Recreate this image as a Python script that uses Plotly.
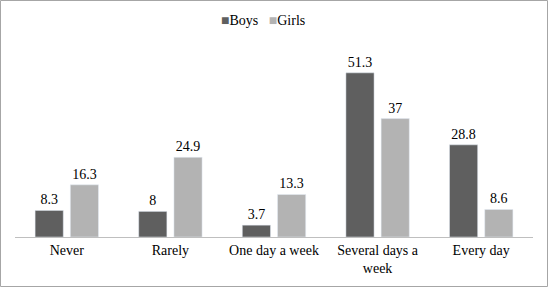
import plotly.graph_objects as go

categories = ["Never", "Rarely", "One day a week", "Several days a<br>week", "Every day"]
boys = [8.3, 8, 3.7, 51.3, 28.8]
girls = [16.3, 24.9, 13.3, 37, 8.6]
series_names = ["Boys", "Girls"]
colors = ["#5f5f5f", "#b3b3b3"]

W, H = 549, 288
ml, mr, mt, mb = 15, 16, 45, 51
FONT = "Liberation Serif"

fig = go.Figure()
for name, vals, col in zip(series_names, [boys, girls], colors):
    fig.add_trace(go.Bar(name=name, x=categories, y=vals, marker_color=col,
                         text=[str(v) for v in vals], textposition="outside",
                         textfont=dict(color="black", size=14, family=FONT),
                         cliponaxis=False))

pw = W - ml - mr
ph = H - mt - mb
legend_text = "&nbsp;&nbsp;&nbsp;".join(
    f'<span style="color:{c}">■</span>{n}' for n, c in zip(series_names, colors))
fig.update_layout(
    width=W, height=H,
    margin=dict(l=ml, r=mr, t=mt, b=mb, autoexpand=False),
    paper_bgcolor="white", plot_bgcolor="white",
    font=dict(family=FONT, size=14, color="black"),
    barmode="group", bargap=0.32, bargroupgap=0.2,
    showlegend=False,
    xaxis=dict(showline=True, linecolor="#bfbfbf", linewidth=1, ticks="",
               tickfont=dict(size=14, family=FONT), fixedrange=True, automargin=False),
    yaxis=dict(range=[0, 60], showgrid=False, showticklabels=False, zeroline=False,
               showline=False, fixedrange=True, automargin=False),
    annotations=[dict(text=legend_text, xref="paper", yref="paper", x=(263 - ml) / pw,
                      y=1 + 25 / ph, xanchor="center", yanchor="middle", showarrow=False,
                      font=dict(size=14, family=FONT))],
    shapes=[dict(type="rect", xref="paper", yref="paper",
                 x0=-(ml - 0.5) / pw, x1=1 + (mr - 1.5) / pw,
                 y0=-(mb - 1.5) / ph, y1=1 + (mt - 0.5) / ph,
                 line=dict(color="#a6a6a6", width=1))],
)
fig.write_html("out.html", config={"displayModeBar": False},
               post_script="document.body.style.margin='0';document.body.style.padding='0';")
